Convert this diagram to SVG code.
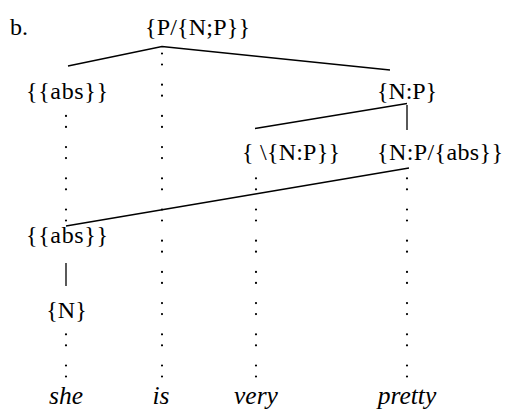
<svg xmlns="http://www.w3.org/2000/svg" width="508" height="410" viewBox="0 0 508 410">
<style>
.t{font-family:'Liberation Serif','Times New Roman',serif;font-size:24px;fill:#000;text-anchor:middle}
.w{font-style:italic;font-size:25.5px}
.ln{stroke:#000;stroke-width:1.3;fill:none}
.dot{stroke:#000;stroke-width:2.2;stroke-linecap:round;stroke-dasharray:0 11 0 20.2;fill:none}
</style>
<rect width="508" height="410" fill="#fff"/>
<g id="connectors">
<path class="ln" d="M68 66 L162 46.5 L390 70"/>
<path class="ln" d="M255 128.5 L407 103.5 M407 105 V130"/>
<path class="ln" d="M66 226 L409 168"/>
<path class="ln" d="M66 263 V286"/>
<path class="dot" d="M66 115.9 V221"/>
<path class="dot" d="M66 334.3 V377"/>
<path class="dot" d="M162 53.5 V377"/>
<path class="dot" d="M256 178.3 V377"/>
<path class="dot" d="M407 178.3 V377"/>
</g>
<g id="label-b"><text class="t" x="10" y="35" style="text-anchor:start">b.</text></g>
<g id="n-root"><text class="t" x="197.5" y="35" textLength="105" lengthAdjust="spacing">{P/{N;P}}</text></g>
<g id="n-abs1"><text class="t" x="67" y="98.5" textLength="82" lengthAdjust="spacing">{{abs}}</text></g>
<g id="n-np"><text class="t" x="407" y="98.5" textLength="60" lengthAdjust="spacing">{N:P}</text></g>
<g id="n-very-cat"><text class="t" x="291" y="160" textLength="98" lengthAdjust="spacing">{ \{N:P}}</text></g>
<g id="n-pretty-cat"><text class="t" x="440" y="160" textLength="126" lengthAdjust="spacing">{N:P/{abs}}</text></g>
<g id="n-abs2"><text class="t" x="67" y="243" textLength="82" lengthAdjust="spacing">{{abs}}</text></g>
<g id="n-n"><text class="t" x="66.5" y="318">{N}</text></g>
<g id="w-she"><text class="t w" x="66" y="404">she</text></g>
<g id="w-is"><text class="t w" x="161" y="404">is</text></g>
<g id="w-very"><text class="t w" x="256" y="404">very</text></g>
<g id="w-pretty"><text class="t w" x="407" y="404">pretty</text></g>
</svg>
